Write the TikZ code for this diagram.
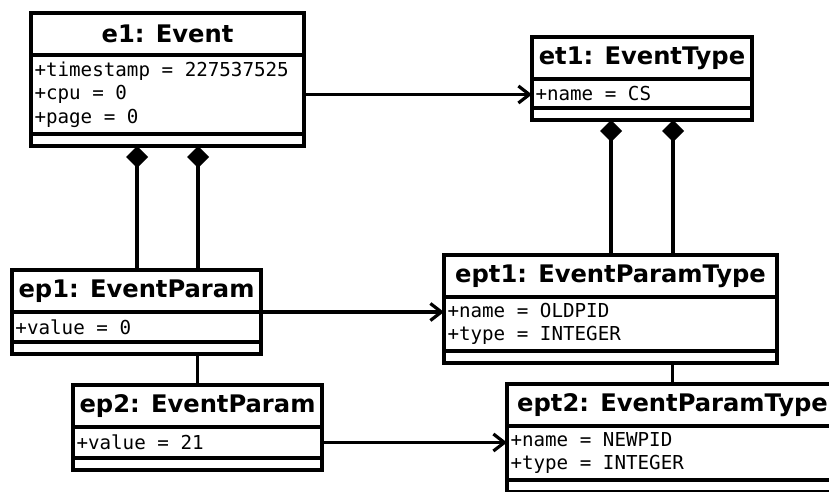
\documentclass[tikz,border=0pt]{standalone}
\usepackage{fontspec}
\setmainfont{DejaVu Sans}
\setmonofont{DejaVu Sans Mono}
\usetikzlibrary{positioning, arrows.meta}

\begin{document}
\begin{tikzpicture}[x=1pt, y=-1pt, line width=3.2pt,
    title/.style={draw, outer sep=0pt, minimum height=42pt, inner sep=0pt,
      font=\bfseries\fontsize{24.2}{29}\selectfont},
    attrs/.style={draw, outer sep=0pt, inner xsep=3.5pt, inner ysep=3pt,
      font=\ttfamily\fontsize{19.2}{23.4}\selectfont,
      execute at begin node={\spaceskip=0.602em\relax}},
    ops/.style={draw, outer sep=0pt, inner sep=0pt, minimum height=12pt},
    comp/.style={{Diamond[length=22pt, width=22pt]}-},
    assoc/.style={-{Straight Barb[length=11pt, width=17pt]}}]
  \clip (0, 0) rectangle (829, 492);

  % Event
  \node [title, minimum width=273pt, anchor=north west] (e1) at (31, 13) {e1: Event};
  \node [attrs, text width=266pt, minimum height=79pt, below=0pt of e1] (e1a)
    {+timestamp = 227537525\\+cpu = 0\\+page = 0};
  \node [ops, minimum width=273pt, below=0pt of e1a] (e1o) {};

  % Event type
  \node [title, minimum width=220pt, anchor=north west] (et1) at (532, 37) {et1: EventType};
  \node [attrs, text width=213pt, minimum height=29pt, below=0pt of et1] (et1a) {+name = CS};
  \node [ops, minimum width=220pt, below=0pt of et1a] (et1o) {};

  % Event params
  \node [title, minimum width=249pt, anchor=north west] (ep1) at (12, 270) {ep1: EventParam};
  \node [attrs, text width=242pt, minimum height=30pt, below=0pt of ep1] (ep1a) {+value = 0};
  \node [ops, minimum width=249pt, below=0pt of ep1a] (ep1o) {};

  \node [title, minimum width=249pt, anchor=north west] (ep2) at (73, 385) {ep2: EventParam};
  \node [attrs, text width=242pt, minimum height=31pt, below=0pt of ep2] (ep2a) {+value = 21};
  \node [ops, minimum width=249pt, below=0pt of ep2a] (ep2o) {};

  % Event param types
  \node [title, minimum width=333pt, anchor=north west] (ept1) at (444, 255) {ept1: EventParamType};
  \node [attrs, text width=326pt, minimum height=54pt, below=0pt of ept1] (ept1a)
    {+name = OLDPID\\+type = INTEGER};
  \node [ops, minimum width=333pt, below=0pt of ept1a] (ept1o) {};

  \node [title, minimum width=331pt, anchor=north west] (ept2) at (507, 384) {ept2: EventParamType};
  \node [attrs, text width=324pt, minimum height=54pt, below=0pt of ept2] (ept2a)
    {+name = NEWPID\\+type = INTEGER};
  \node [ops, minimum width=331pt, below=0pt of ept2a] (ept2o) {};

  % Links
  \draw [assoc] (e1a.east) -- (e1a.east -| et1a.west);
  \draw [comp] ([xshift=-30.5pt]e1o.south) -- ([xshift=-30.5pt]e1o.south |- ep1.north);
  \draw [comp] ([xshift=30.5pt]e1o.south) -- ([xshift=30.5pt]e1o.south |- ep1.north);
  \draw [comp] ([xshift=-31pt]et1o.south) -- ([xshift=-31pt]et1o.south |- ept1.north);
  \draw [comp] ([xshift=31pt]et1o.south) -- ([xshift=31pt]et1o.south |- ept1.north);
  \draw [assoc] (ep1.south east) -- (ep1.south east -| ept1a.west);
  \draw [assoc] (ep2a.east) -- (ep2a.east -| ept2a.west);
  \draw (ep2.north) -- (ep2.north |- ep1o.south);
  \draw (ept2.north) -- (ept2.north |- ept1o.south);
\end{tikzpicture}
\end{document}
